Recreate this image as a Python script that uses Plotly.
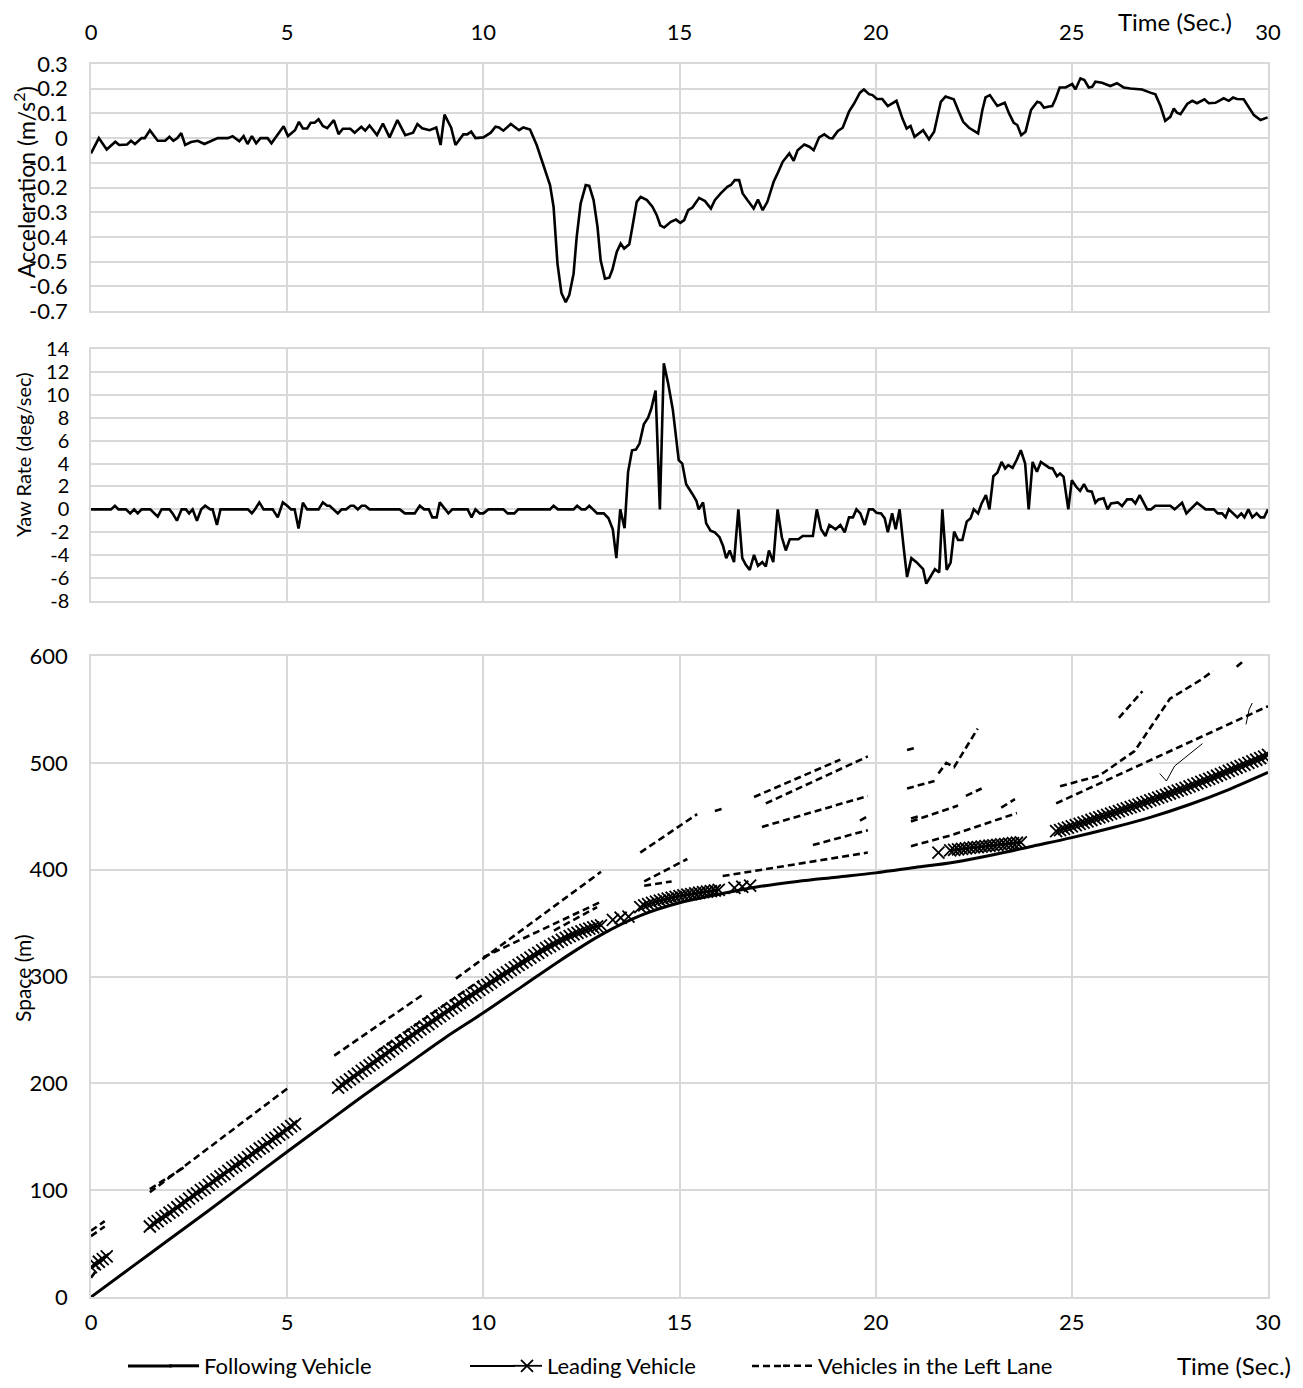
import plotly.graph_objects as go

# ---------------- Acceleration (m/s^2) ----------------
acc_t = [0, 0.2, 0.4, 0.62, 0.72, 0.92, 1.02, 1.12, 1.29, 1.37, 1.5, 1.7, 1.89, 2.0, 2.1, 2.2, 2.3, 2.4, 2.55, 2.72,
         2.89, 3.07, 3.23, 3.49, 3.61, 3.78, 3.89, 3.99, 4.1, 4.21, 4.32, 4.5, 4.6, 4.91, 5.02, 5.2, 5.3, 5.4, 5.51, 5.6,
         5.7, 5.8, 5.91, 6.02, 6.19, 6.31, 6.42, 6.61, 6.72, 6.89, 6.99, 7.1, 7.29, 7.44, 7.61, 7.81, 8.01, 8.21, 8.32, 8.44,
         8.63, 8.8, 8.91, 9.01, 9.18, 9.29, 9.49, 9.59, 9.69, 9.8, 10.0, 10.19, 10.31, 10.4, 10.51, 10.7, 10.91, 11.02, 11.19, 11.36,
         11.53, 11.7, 11.79, 11.89, 11.99, 12.1, 12.19, 12.3, 12.38, 12.48, 12.61, 12.7, 12.81, 12.91, 12.99, 13.1, 13.21, 13.29, 13.4, 13.5,
         13.59, 13.72, 13.8, 13.91, 14.01, 14.17, 14.31, 14.42, 14.51, 14.61, 14.78, 14.91, 15.02, 15.12, 15.22, 15.33, 15.5, 15.65, 15.8, 15.9,
         16.05, 16.22, 16.31, 16.41, 16.52, 16.61, 16.73, 16.89, 17.0, 17.12, 17.24, 17.4, 17.5, 17.63, 17.8, 17.91, 18.01, 18.18, 18.31, 18.42,
         18.56, 18.69, 18.82, 18.9, 19.03, 19.16, 19.32, 19.45, 19.6, 19.7, 19.83, 19.92, 20.03, 20.17, 20.31, 20.53, 20.68, 20.79, 20.89, 20.99,
         21.21, 21.36, 21.49, 21.66, 21.78, 21.99, 22.12, 22.23, 22.38, 22.61, 22.72, 22.8, 22.91, 23.1, 23.29, 23.4, 23.52, 23.61, 23.71, 23.82,
         23.96, 24.12, 24.2, 24.29, 24.39, 24.5, 24.58, 24.69, 24.84, 25.01, 25.09, 25.22, 25.32, 25.43, 25.52, 25.6, 25.77, 25.98, 26.15, 26.32,
         26.49, 26.79, 27.0, 27.13, 27.26, 27.38, 27.51, 27.6, 27.68, 27.77, 27.94, 28.07, 28.19, 28.38, 28.49, 28.66, 28.87, 29.0, 29.11, 29.21,
         29.38, 29.51, 29.64, 29.81, 29.99]
acc_v = [-0.062, 0.0, -0.046, -0.015, -0.028, -0.026, -0.011, -0.024, 0.0, 0.0, 0.032, -0.011, -0.011, 0.005, -0.011, 0.0, 0.02, -0.028, -0.016, -0.011,
         -0.024, -0.011, 0.0, 0.0, 0.008, -0.013, 0.008, -0.024, 0.008, -0.021, 0.0, 0.0, -0.021, 0.048, 0.008, 0.032, 0.066, 0.039, 0.039, 0.062,
         0.062, 0.076, 0.049, 0.04, 0.073, 0.016, 0.038, 0.038, 0.022, 0.046, 0.03, 0.051, 0.012, 0.059, 0.003, 0.073, 0.012, 0.022, 0.057, 0.04,
         0.032, 0.043, -0.028, 0.095, 0.042, -0.028, 0.015, 0.015, 0.026, 0.0, 0.003, 0.022, 0.046, 0.043, 0.03, 0.057, 0.032, 0.043, 0.035, -0.028,
         -0.109, -0.19, -0.278, -0.508, -0.627, -0.664, -0.636, -0.549, -0.4, -0.265, -0.19, -0.193, -0.251, -0.359, -0.495, -0.569, -0.565, -0.532, -0.461, -0.427,
         -0.447, -0.43, -0.359, -0.258, -0.238, -0.251, -0.278, -0.312, -0.353, -0.362, -0.339, -0.33, -0.343, -0.332, -0.292, -0.281, -0.242, -0.255, -0.285, -0.251,
         -0.224, -0.197, -0.19, -0.17, -0.17, -0.224, -0.251, -0.285, -0.249, -0.292, -0.258, -0.177, -0.143, -0.096, -0.062, -0.092, -0.049, -0.026, -0.035, -0.049,
         0.003, 0.015, 0.0, -0.001, 0.028, 0.042, 0.107, 0.14, 0.184, 0.197, 0.178, 0.174, 0.158, 0.158, 0.13, 0.151, 0.08, 0.039, 0.049, 0.005,
         0.032, -0.005, 0.026, 0.147, 0.168, 0.157, 0.107, 0.066, 0.042, 0.019, 0.114, 0.165, 0.174, 0.13, 0.143, 0.1, 0.062, 0.053, 0.012, 0.026,
         0.114, 0.147, 0.143, 0.123, 0.127, 0.13, 0.157, 0.205, 0.205, 0.219, 0.197, 0.242, 0.235, 0.205, 0.208, 0.228, 0.224, 0.211, 0.222, 0.205,
         0.201, 0.197, 0.184, 0.177, 0.13, 0.07, 0.086, 0.12, 0.103, 0.097, 0.138, 0.151, 0.141, 0.157, 0.141, 0.143, 0.161, 0.151, 0.164, 0.158,
         0.157, 0.127, 0.093, 0.073, 0.084]

# ---------------- Yaw rate (deg/sec) ----------------
yaw_t = [0, 0.51, 0.61, 0.7, 0.89, 1.0, 1.1, 1.19, 1.29, 1.51, 1.7, 1.8, 2.0, 2.08, 2.19, 2.31, 2.42, 2.5, 2.59, 2.7,
         2.81, 2.91, 3.04, 3.1, 3.21, 3.3, 4.0, 4.1, 4.18, 4.29, 4.4, 4.63, 4.76, 4.89, 5.0, 5.1, 5.19, 5.29, 5.4, 5.51,
         5.8, 5.91, 6.02, 6.08, 6.29, 6.39, 6.5, 6.62, 6.7, 6.8, 6.9, 6.99, 7.1, 7.87, 8.0, 8.25, 8.38, 8.49, 8.61, 8.7,
         8.81, 8.89, 9.11, 9.21, 9.6, 9.7, 9.8, 9.91, 10.0, 10.13, 10.51, 10.62, 10.79, 10.89, 11.7, 11.79, 11.9, 12.3, 12.39, 12.5,
         12.6, 12.7, 12.9, 13.07, 13.19, 13.3, 13.39, 13.49, 13.6, 13.69, 13.79, 13.89, 13.98, 14.09, 14.2, 14.28, 14.39, 14.5, 14.6, 14.71,
         14.83, 14.98, 15.07, 15.17, 15.32, 15.43, 15.49, 15.6, 15.68, 15.79, 15.9, 16.02, 16.11, 16.19, 16.28, 16.39, 16.5, 16.6, 16.69, 16.79,
         16.9, 17.0, 17.11, 17.2, 17.28, 17.39, 17.5, 17.61, 17.71, 17.81, 18.03, 18.14, 18.4, 18.5, 18.61, 18.72, 18.82, 18.98, 19.1, 19.21,
         19.32, 19.42, 19.51, 19.61, 19.72, 19.83, 19.93, 20.02, 20.14, 20.23, 20.31, 20.42, 20.51, 20.61, 20.72, 20.8, 20.91, 21.04, 21.21, 21.29,
         21.4, 21.51, 21.62, 21.7, 21.81, 21.91, 22.0, 22.1, 22.21, 22.32, 22.42, 22.5, 22.61, 22.7, 22.81, 22.9, 23.0, 23.1, 23.21, 23.3,
         23.38, 23.49, 23.59, 23.7, 23.81, 23.9, 24.0, 24.11, 24.21, 24.32, 24.43, 24.51, 24.62, 24.7, 24.79, 24.91, 25.0, 25.11, 25.21, 25.31,
         25.4, 25.51, 25.6, 25.68, 25.81, 25.91, 26.0, 26.17, 26.28, 26.41, 26.53, 26.62, 26.73, 26.92, 27.02, 27.13, 27.51, 27.62, 27.81, 27.92,
         28.19, 28.41, 28.62, 28.72, 28.83, 28.92, 29.0, 29.22, 29.32, 29.4, 29.5, 29.6, 29.71, 29.81, 29.9, 30.0]
yaw_v = [0, 0, 0.32, 0, 0, -0.35, 0, -0.35, 0, 0, -0.64, 0, 0, -0.35, -0.99, 0, 0, -0.35, 0, -0.99,
         0, 0.32, 0, 0, -1.36, 0, 0, -0.35, 0, 0.61, 0, 0, -0.7, 0.61, 0.32, 0, 0, -1.68, 0.58, 0,
         0, 0.61, 0.32, 0.32, -0.35, 0, 0, 0.32, 0.32, 0, 0.32, 0.32, 0, 0, -0.35, -0.35, 0.32, 0, 0, -0.7,
         -0.7, 0.61, -0.35, 0, 0, -0.7, 0, -0.35, -0.35, 0, 0, -0.35, -0.35, 0, 0, 0.32, 0, 0, 0.32, 0,
         0, 0.32, -0.35, -0.35, -0.78, -1.74, -4.26, 0, -1.65, 3.28, 5.16, 5.22, 5.74, 7.42, 8.0, 8.78, 10.38, 0, 12.75, 11.0,
         8.7, 4.29, 4.0, 2.2, 1.39, 0.75, 0, 0.61, -1.22, -1.86, -2.0, -2.43, -3.19, -4.26, -3.59, -4.61, 0, -4.26, -4.84, -5.28,
         -3.97, -4.93, -4.61, -4.99, -3.59, -4.61, 0, -2.46, -3.59, -2.61, -2.61, -2.32, -2.32, 0, -1.74, -2.32, -1.36, -1.74, -1.36, -2.0,
         -0.7, -0.7, 0, -0.35, -1.36, 0, 0, -0.29, -0.35, -0.78, -2.0, -0.35, -1.74, 0, -3.54, -5.91, -4.26, -4.61, -5.22, -6.49,
         -5.86, -5.22, -5.51, 0, -5.28, -4.64, -1.94, -2.67, -2.67, -1.07, -0.78, 0, -0.35, 0.52, 1.25, 0, 2.9, 3.19, 4.14, 3.57,
         3.86, 3.62, 4.29, 5.16, 4.0, 0, 4.14, 3.28, 4.14, 3.86, 3.62, 3.57, 2.9, 3.13, 2.84, 0, 2.55, 1.97, 1.62, 2.2,
         1.62, 1.54, 0.58, 0.87, 0.96, 0, 0.52, 0.61, 0.29, 0.87, 0.87, 0.52, 1.25, 0, 0, 0.32, 0.32, 0, 0.58, -0.35,
         0.58, 0, 0, -0.35, -0.35, -0.7, 0, -0.7, -0.35, -0.7, 0, -0.7, -0.35, -0.7, -0.7, 0]

# ---------------- Space (m) ----------------
follow_t = [0, 1, 2, 3, 4, 5, 6, 7, 8, 9, 10, 11, 12, 13, 14, 15, 16, 17, 18, 19, 20, 21, 22, 23, 24, 25, 26, 27, 28, 29, 30]
follow_s = [0, 27, 54, 81, 108.5, 136, 163, 190, 216, 242, 266, 291, 316, 339, 357, 369, 377, 384, 389, 393, 397, 402, 407, 414,
            422, 430, 439, 449, 461, 475, 491]

SAMPLE_DT = 0.1  # leading-vehicle sampling interval (s)
# leading vehicle segments: (start time, sampled positions)
lead_segments = [
    (0.0, [28, 30.5, 33, 35.5, 38]),
    (1.5, [66, 69, 71, 74, 76, 79, 81, 84, 87, 89, 92, 95, 97, 100, 102, 105, 108, 110, 113, 115, 118, 121, 123, 126, 128,
           131, 134, 136, 139, 141, 144, 147, 149, 152, 154, 157, 160, 162]),
    (6.3, [196, 198.6, 201.2, 203.8, 206.4, 209, 211.6, 214.2, 216.8, 219.4, 222, 224.6, 227.2, 229.8, 232.4, 235, 237.6, 240.2,
           242.8, 245.4, 248, 250.5, 253, 255.5, 258, 260.5, 263, 265.5, 268, 270.5, 273, 275.4, 277.8, 280.2, 282.6, 285, 287.4,
           289.8, 292.2, 294.6, 297, 299.3, 301.6, 303.9, 306.2, 308.5, 310.8, 313.1, 315.4, 317.7, 320, 322.2, 324.4, 326.5, 328.5,
           330.5, 332.4, 334.3, 336.1, 337.8, 339.4, 340.9, 342.3, 343.6, 344.8, 345.9, 346.9, 347.8]),
    (13.3, [353]), (13.5, [355]), (13.7, [356]),
    (14.0, [365, 366.5, 367.8, 369, 370.1, 371.1, 372, 372.9, 373.7, 374.5, 375.2, 375.9, 376.6, 377.2, 377.8, 378.4, 379,
            379.5, 380, 380.5, 381]),
    (16.4, [383]), (16.6, [384]), (16.8, [385]),
    (21.6, [416]),
    (21.9, [418, 418.5, 419, 419.5, 420, 420.4, 420.8, 421.2, 421.6, 422, 422.4, 422.8, 423.2, 423.6, 424, 424.4, 424.8,
            425.2, 425.6]),
    (24.6, [436, 437.1, 438.2, 439.3, 440.5, 441.7, 442.9, 444.1, 445.3, 446.5, 447.7, 448.9, 450.1, 451.3, 452.5, 453.7,
            454.9, 456.1, 457.3, 458.5, 459.7, 460.9, 462.2, 463.5, 464.8, 466.1, 467.4, 468.7, 470, 471.3, 472.6, 473.9,
            475.2, 476.5, 477.9, 479.3, 480.7, 482.1, 483.5, 484.9, 486.4, 487.9, 489.4, 490.9, 492.4, 493.9, 495.4, 496.9,
            498.4, 499.9, 501.4, 502.9, 504.4, 505.9, 507.4]),
]

# vehicles in the left lane: (times, positions) per observed track piece
left_segments = [
    ([0.0, 0.35], [57, 66]), ([0.0, 0.35], [62, 71]), ([0.0, 0.2], [18, 28]),
    ([1.5, 5.0], [98, 195]), ([1.5, 2.4], [101, 122]),
    ([6.2, 8.5], [226, 284]), ([7.3, 9.9], [230, 296]),
    ([9.3, 13.0], [298, 398]), ([10.0, 13.0], [318, 370]), ([11.8, 12.9], [343, 365]),
    ([14.0, 15.45], [416, 452]), ([14.1, 15.2], [389, 410]), ([14.1, 14.8], [385, 389]),
    ([15.9, 16.1], [455, 457]),
    ([16.1, 19.8], [394, 416]), ([18.4, 19.8], [423, 437]), ([17.1, 19.8], [440, 469]), ([19.6, 19.8], [446, 450]),
    ([16.9, 19.1], [468, 503]), ([17.2, 19.8], [462, 506]),
    ([20.9, 21.9, 23.6], [422, 432, 453]), ([20.9, 22.1], [445, 460]), ([20.9, 21.1], [448, 450]),
    ([22.3, 22.7], [469, 476]), ([23.2, 23.55], [458, 466]),
    ([20.8, 21.0], [512, 514]), ([20.8, 21.5], [476, 483]), ([21.6, 21.8, 22.0, 22.6], [490, 500, 496, 532]),
    ([24.6, 30.0], [462, 553]),
    ([24.7, 25.7, 26.6, 27.5, 28.3, 28.6], [478, 488, 511, 560, 578, 586]),
    ([26.2, 26.8], [542, 567]), ([29.2, 29.4], [590, 596]),
]
# short thin solid pieces drawn among the left-lane tracks
thin_segments = [
    ([27.24, 27.41, 27.62, 28.33], [490, 483, 497, 518]),
    ([29.6, 29.52, 29.44], [556, 550, 536]),
]

ticks_x = [0, 5, 10, 15, 20, 25, 30]
acc_ticks = [0.3, 0.2, 0.1, 0, -0.1, -0.2, -0.3, -0.4, -0.5, -0.6, -0.7]
acc_ticktext = ["0.3", "0.2", "0.1", "0", "-0.1", "-0.2", "-0.3", "-0.4", "-0.5", "-0.6", "-0.7"]
yaw_ticks = [14, 12, 10, 8, 6, 4, 2, 0, -2, -4, -6, -8]
yaw_ticktext = ["14", "12", "10", "8", "6", "4", "2", "0", "-2", "-4", "-6", "-8"]
space_ticks = [0, 100, 200, 300, 400, 500, 600]

# ---------------- build figure ----------------
W, H = 1303, 1388          # screenshot size
OFF = 8                    # page body margin of the html page
FW, FH = W - OFF, H - OFF  # figure size
FONT = "Lato"
GRID = "#d9d9d9"
TICK = 22

def px_x(p):
    return (p - OFF) / FW

def px_y(p):
    return 1 - (p - OFF) / FH

fig = go.Figure()

fig.add_trace(go.Scatter(x=acc_t, y=acc_v, mode="lines", line=dict(color="black", width=2.6),
                         xaxis="x", yaxis="y", showlegend=False))
fig.add_trace(go.Scatter(x=yaw_t, y=yaw_v, mode="lines", line=dict(color="black", width=2.6),
                         xaxis="x2", yaxis="y2", showlegend=False))

fig.add_trace(go.Scatter(x=follow_t, y=follow_s, mode="lines", line=dict(color="black", width=3, shape="spline"),
                         xaxis="x3", yaxis="y3", name="Following Vehicle", legend="legend"))

lx, ly = [], []
for t0, vals in lead_segments:
    for i, v in enumerate(vals):
        lx.append(round(t0 + i * SAMPLE_DT, 2))
        ly.append(v)
    lx.append(None)
    ly.append(None)
fig.add_trace(go.Scatter(x=lx, y=ly, mode="lines+markers", line=dict(color="black", width=1.8),
                         marker=dict(symbol="x-thin", size=12, line=dict(color="black", width=1.8)),
                         xaxis="x3", yaxis="y3", name="Leading Vehicle", legend="legend2"))

DASH = "7px,4px"
dx, dy = [], []
for ts, ss in left_segments:
    dx += ts + [None]
    dy += ss + [None]
fig.add_trace(go.Scatter(x=dx, y=dy, mode="lines", line=dict(color="black", width=2.6, dash=DASH),
                         xaxis="x3", yaxis="y3", name="Vehicles in the Left Lane", legend="legend3"))

tx, ty = [], []
for ts, ss in thin_segments:
    tx += ts + [None]
    ty += ss + [None]
fig.add_trace(go.Scatter(x=tx, y=ty, mode="lines", line=dict(color="black", width=1),
                         xaxis="x3", yaxis="y3", showlegend=False))

xdom = [px_x(91), px_x(1268)]
common_x = dict(range=[0, 30], tickvals=ticks_x, showgrid=True, gridcolor=GRID, gridwidth=1.5,
                showline=True, linecolor=GRID, linewidth=1.5, mirror=True, zeroline=False, ticks="",
                domain=xdom, automargin=False, tickfont=dict(size=TICK))
common_y = dict(showgrid=True, gridcolor=GRID, gridwidth=1.5, showline=True, linecolor=GRID, linewidth=1.5,
                mirror=True, zeroline=False, ticks="", automargin=False, tickfont=dict(size=TICK),
                ticklabelstandoff=17)

LEG_Y = 1366
leg = dict(orientation="h", yanchor="middle", xanchor="left", y=px_y(LEG_Y),
           bgcolor="rgba(0,0,0,0)", font=dict(size=22, family=FONT))

def label(text, x, y, size, angle=0):
    return dict(text=text, x=px_x(x), y=px_y(y), xref="paper", yref="paper", xanchor="center",
                yanchor="middle", textangle=angle, showarrow=False, font=dict(size=size))

def legend_ext(x0, x1, width, dash="solid"):
    # lengthens the short legend key line to the reference key length
    return dict(type="line", xref="paper", yref="paper", x0=px_x(x0), x1=px_x(x1),
                y0=px_y(LEG_Y), y1=px_y(LEG_Y), line=dict(color="black", width=width, dash=dash))

fig.update_layout(
    width=FW, height=FH, paper_bgcolor="white", plot_bgcolor="white",
    margin=dict(l=0, r=0, t=0, b=0, autoexpand=False),
    font=dict(family=FONT, color="black", size=22),
    xaxis=dict(common_x, anchor="y", side="top", ticklabelstandoff=13),
    yaxis=dict(common_y, domain=[px_y(311), px_y(64)], range=[-0.7, 0.3], tickvals=acc_ticks,
               ticktext=acc_ticktext),
    xaxis2=dict(common_x, anchor="y2", showticklabels=False),
    yaxis2=dict(common_y, domain=[px_y(601), px_y(349)], range=[-8, 14], tickvals=yaw_ticks,
                ticktext=yaw_ticktext, ticklabelstandoff=16, tickfont=dict(size=20)),
    xaxis3=dict(common_x, anchor="y3", side="bottom", ticklabelstandoff=5),
    yaxis3=dict(common_y, domain=[px_y(1297), px_y(656)], range=[0, 600], tickvals=space_ticks),
    legend=dict(leg, x=px_x(164)),
    legend2=dict(leg, x=px_x(507)),
    legend3=dict(leg, x=px_x(778)),
    shapes=[legend_ext(128, 172, 3), legend_ext(470, 515, 1.8), legend_ext(752, 786, 2.6, DASH)],
    annotations=[
        label("Acceleration (m/s<sup>2</sup>)", 25, 182, 23, -90),
        label("Yaw Rate (deg/sec)", 23, 455, 20, -90),
        label("Space (m)", 22, 978, 21, -90),
        label("Time (Sec.)", 1175, 22, 24),
        label("Time (Sec.)", 1234, 1365, 24),
    ],
)

fig.write_html("out.html")
